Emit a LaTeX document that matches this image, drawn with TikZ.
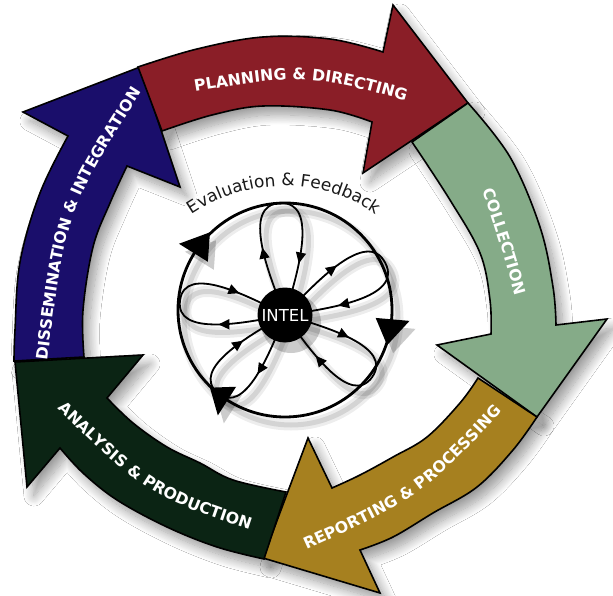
\documentclass[tikz,border=0pt]{standalone}
\usepackage{fontspec}
\usetikzlibrary{decorations.text,decorations.markings,arrows.meta,shadows.blur}
\newfontfamily\vfam{DejaVu Sans}
\newcommand\lblfont{\vfam\bfseries\fontsize{15.8}{16}\selectfont}
\newcommand\evalfont{\vfam\fontsize{17}{18}\selectfont}
\newcommand\intelfont{\vfam\fontsize{16.5}{17}\selectfont}
\definecolor{cRed}{HTML}{8A1E27}
\definecolor{cGreen}{HTML}{85AB88}
\definecolor{cGold}{HTML}{A6801F}
\definecolor{cDark}{HTML}{0B2414}
\definecolor{cBlue}{HTML}{1A0E6B}
\def\pathBlue{plot[smooth,tension=0.6] coordinates {(14,361) (15,330) (20,262) (40,193) (68,136)} -- (23,112) -- (140,67) -- (180,187) -- plot[smooth,tension=0.6] coordinates {(127,166) (110,203) (93,247) (83,310) (84,357)} -- cycle}
\def\pathRed{plot[smooth,tension=0.6] coordinates {(138,67) (197,49) (263,37) (330,39) (383,52)} -- (393,5) -- (468,103) -- (363,173) -- plot[smooth,tension=0.6] coordinates {(372,122) (330,110) (263,106) (212,115) (162,131)} -- cycle}
\def\pathGreen{plot[smooth,tension=0.6] coordinates {(468,103) (510,157) (540,227) (553,287) (556,325)} -- (607,319) -- (537,417) -- (437,345) -- plot[smooth,tension=0.6] coordinates {(491,334) (490,300) (480,253) (450,200) (412,142)} -- cycle}
\def\pathGold{plot[smooth,tension=0.6] coordinates {(537,417) (513,450) (477,487) (433,513) (393,537) (360,550)} -- (380,593) -- (263,558) -- (308,438) -- plot[smooth,tension=0.6] coordinates {(332,488) (360,475) (393,457) (427,437) (460,403) (478,378)} -- cycle}
\def\pathDark{plot[smooth,tension=0.6] coordinates {(264,559) (217,547) (167,527) (117,500) (83,473) (60,448)} -- (27,487) -- (15,362) -- (143,355) -- plot[smooth,tension=0.6] coordinates {(107,398) (133,423) (167,447) (200,463) (233,480) (286,492)} -- cycle}
\newcommand\drawloops[1]{%
  \foreach \ang/\len in {92.5/112,27.5/113,-35.5/107,-131/103,172/106}{%
    \draw[#1,shift={(285,315)},rotate=\ang] (0,0) .. controls ({0.37*\len},{-0.13*\len}) and (\len,{-0.35*\len}) .. (\len,0) .. controls (\len,{0.35*\len}) and ({0.37*\len},{0.13*\len}) .. (0,0);
  }}
\newcommand\bigtri[3][]{\fill[#1] ({285+125*cos(#2)},{310-125*sin(#2)}) -- ({285+108*cos(#3)},{310-108*sin(#3)}) -- ({285+91*cos(#2)},{310-91*sin(#2)}) -- cycle;}
\begin{document}
\begin{tikzpicture}[x=1pt,y=-1pt,
  ashadow/.style={blur shadow={shadow xshift=7pt,shadow yshift=-9pt,shadow blur radius=10pt,shadow blur steps=16}},
  arrowbody/.style={draw=black,line width=1.6pt,line join=miter},
  bandtext/.style={decorate,decoration={text along path,text color=white,text align=center}},
  lshadowwide/.style={draw=black,opacity=0.07,line width=11pt},
  lshadow/.style={draw=black,opacity=0.1,line width=5pt},
  loopline/.style={draw=black,line width=1.8pt,postaction={decorate},
    decoration={markings,
      mark=at position 0.28 with {\arrow{Triangle[length=11pt,width=10pt]}},
      mark=at position 0.79 with {\arrow{Triangle[length=11pt,width=10pt]}}}}]
\fill[white] (0,0) rectangle (613,596);
\useasboundingbox (0,0) rectangle (613,596);
% shadows of the arrows
\path[ashadow] \pathBlue;
\path[ashadow] \pathRed;
\path[ashadow] \pathGreen;
\path[ashadow] \pathGold;
\path[ashadow] \pathDark;
% shadows of the inner drawing
\begin{scope}[shift={(6,8)}]
  \draw[lshadowwide] (285,310) circle[radius=107];
  \drawloops{lshadowwide}
  \draw[lshadow] (285,310) circle[radius=107];
  \drawloops{lshadow}
  \fill[black,opacity=0.2] (285,315) circle[radius=30];
  \bigtri[black,opacity=0.2]{148}{134}
  \bigtri[black,opacity=0.2]{-5}{-19}
  \bigtri[black,opacity=0.2]{237.5}{226}
\end{scope}
% arrows
\path[arrowbody,fill=cBlue] \pathBlue;
\path[arrowbody,fill=cRed] \pathRed;
\path[arrowbody,fill=cGreen] \pathGreen;
\path[arrowbody,fill=cGold] \pathGold;
\path[arrowbody,fill=cDark] \pathDark;
% labels on the arrows
\path[bandtext,decoration={text={|\lblfont|PLANNING {\&} DIRECTING}}]
  (170,96) .. controls (306.7,72.7) .. (430,108);
\path[bandtext,decoration={text={|\lblfont|COLLECTION}}]
  (476,172) .. controls (500,242) .. (521,315);
\path[bandtext,decoration={text={|\lblfont|REPORTING {\&} PROCESSING}}]
  (290,557) .. controls (423.3,496.8) .. (514,398);
\path[bandtext,decoration={text={|\lblfont|ANALYSIS {\&} PRODUCTION}}]
  (45,397) .. controls (148.2,496.7) .. (266,535);
\path[bandtext,decoration={text={|\lblfont|DISSEMINATION {\&} INTEGRATION}}]
  (46,372) .. controls (66.3,209.7) .. (148,82);
% evaluation circle
\node[circle,draw=black,line width=2.8pt,minimum size=214pt,inner sep=0pt] (evalring) at (285,310) {};
\bigtri{148}{134}
\bigtri{-5}{-19}
\bigtri{237.5}{226}
\drawloops{loopline}
\node[circle,fill=black,minimum size=55pt,inner sep=0pt,text=white,font=\intelfont] (intel) at (285,315) {INTEL};
\path[decorate,decoration={text along path,text align=center,text color=black!90,text={|\evalfont|Evaluation {\&} Feedback}}]
  plot[domain=131:49,samples=61] ({284+164*cos(\x)},{350-164*sin(\x)});
\end{tikzpicture}
\end{document}
